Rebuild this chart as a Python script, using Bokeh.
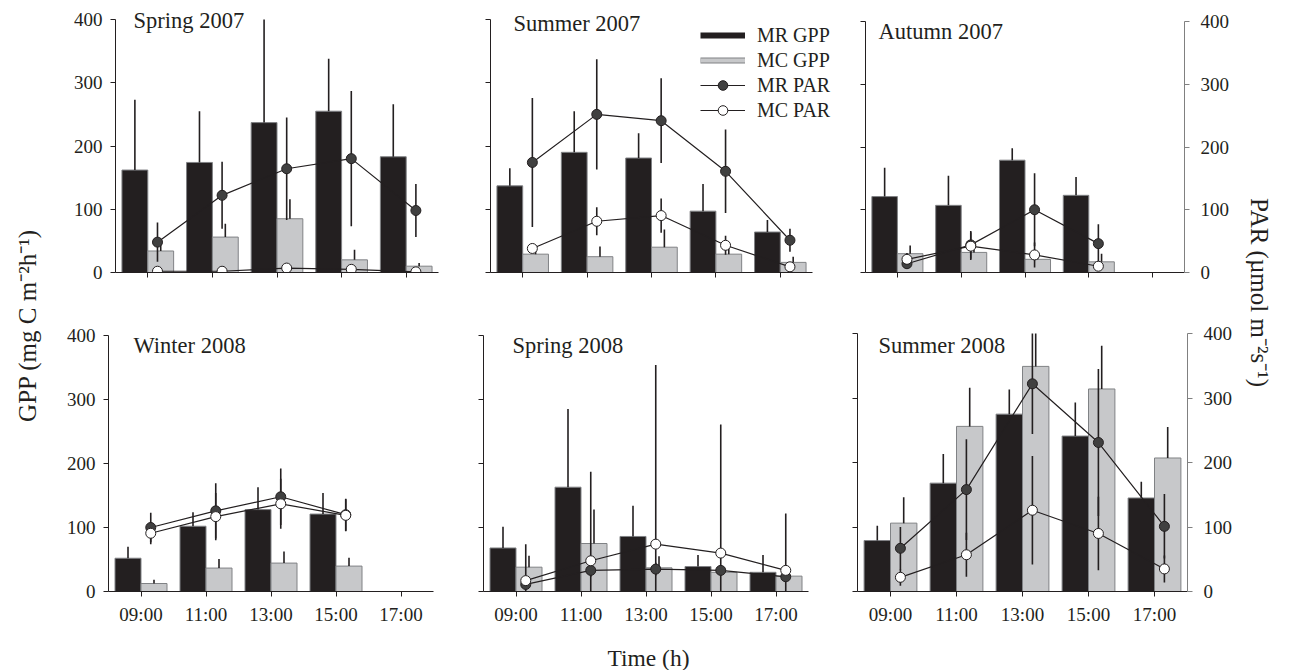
from bokeh.plotting import figure
from bokeh.models import (ColumnDataSource, Range1d, LinearAxis, FixedTicker, Label,
                          Legend, LegendItem, CustomJSTickFormatter)
from bokeh.layouts import row, column
from bokeh.transform import dodge
from bokeh.embed import file_html
from bokeh.resources import INLINE

# ---------------- data ----------------
hours = [9, 11, 13, 15, 17]
time_labels = ["09:00", "11:00", "13:00", "15:00", "17:00"]
y_ticks = [0, 100, 200, 300, 400]
seasons = ["Spring 2007", "Summer 2007", "Autumn 2007",
           "Winter 2008", "Spring 2008", "Summer 2008"]

# GPP (mg C m-2 h-1): one list per season (order as in `seasons`)
mr_gpp = [
    [162, 174, 237, 255, 183],
    [137, 190, 181, 97, 64],
    [121, 107, 179, 123],
    [52, 102, 128, 121],
    [68, 163, 86, 39, 30],
    [79, 168, 275, 241, 145],
]
mr_gpp_se = [
    [111, 81, 163, 83, 83],
    [28, 65, 39, 43, 19],
    [46, 47, 19, 29],
    [18, 22, 35, 33],
    [33, 122, 48, 18, 27],
    [23, 45, 38, 52, 25],
]
mc_gpp = [
    [34, 56, 85, 20, 10],
    [29, 25, 40, 29, 16],
    [30, 32, 21, 17],
    [12.5, 36.6, 44.4, 39.7],
    [38, 75, 37, 30, 24],
    [106, 256, 349, 314, 207],
]
mc_gpp_se = [
    [12, 21, 31, 16, 5],
    [8, 16, 28, 10, 9],
    [13, 6, 5, 13],
    [6, 14, 18, 13],
    [18, 53, 18, 6, 5],
    [40, 60, 51, 67, 48],
]
# PAR (umol m-2 s-1)
mr_par = [
    [48, 122, 164, 180, 98],
    [174, 250, 240, 160, 51],
    [14, 44, 100, 46],
    [100, 126, 148, 120],
    [11, 33, 35, 33, 23],
    [67, 158, 322, 231, 101],
]
mr_par_se = [
    [31, 53, 81, 107, 42],
    [102, 87, 67, 66, 18],
    [8, 22, 58, 31],
    [23, 43, 44, 25],
    [8, 10, 10, 8, 6],
    [33, 78, 78, 114, 50],
]
mc_par = [
    [2, 2, 7, 5, 1],
    [38, 81, 90, 43, 9],
    [21, 42, 28, 10],
    [91, 117, 137, 119],
    [17, 48, 74, 60, 33],
    [22, 57, 126, 90, 35],
]
mc_par_se = [
    [1, 1, 2, 1, 1],
    [5, 22, 27, 15, 3],
    [10, 22, 20, 5],
    [17, 37, 39, 25],
    [57, 139, 280, 201, 89],
    [13, 34, 84, 57, 21],
]

# ---------------- styles ----------------
INK = "#231f20"
DARK = "#231f20"
LIGHT = "#c7c8ca"
EDGE = "#808285"
RAXIS = "#808080"
FONT = "Liberation Serif"
PX_PER_H = 32.2
NAN = float("nan")

# bt: frame top inside figure, top400: pixel row of the 400 line inside figure
# extra: frame pixels beyond 18:00 (legend panel only)
cfgs = [
    dict(w=414, h=305, bl=65, br=26, bt=0, top400=19, bb=33, tx=18, ty=252, ylab=True, xlab=False, right=False, extra=0),
    dict(w=374, h=305, bl=26, br=0, bt=0, top400=19, bb=33, tx=23, ty=249, ylab=False, xlab=False, right=False, extra=26),
    dict(w=402, h=305, bl=27, br=56, bt=0, top400=21, bb=33, tx=13, ty=241, ylab=False, xlab=False, right=True, extra=0),
    dict(w=408, h=328, bl=58, br=25, bt=10, top400=30, bb=42, tx=25, ty=246, ylab=True, xlab=True, right=False, extra=0),
    dict(w=374, h=328, bl=25, br=24, bt=10, top400=30, bb=42, tx=29, ty=246, ylab=False, xlab=True, right=False, extra=0),
    dict(w=408, h=328, bl=25, br=53, bt=10, top400=28, bb=42, tx=21, ty=246, ylab=False, xlab=True, right=True, extra=0),
]

blank_fmt = CustomJSTickFormatter(code="return ''")


def style_axis(ax, show, color=INK, standoff=8):
    ax.axis_line_color = color
    ax.axis_line_width = 1
    ax.major_tick_line_color = color
    ax.major_tick_line_width = 1
    ax.major_tick_in = 0
    ax.major_tick_out = 5
    ax.minor_tick_line_color = None
    ax.major_label_text_font = FONT
    ax.major_label_text_font_size = "19px"
    ax.major_label_text_color = INK
    ax.major_label_standoff = standoff if show else 0


def make_panel(i, c):
    x_end = 18 + c["extra"] / PX_PER_H
    ppu = (c["h"] - c["bb"] - c["top400"]) / 400.0
    y_end = 400 + (c["top400"] - c["bt"]) / ppu
    p = figure(width=c["w"], height=c["h"], x_range=Range1d(8, x_end), y_range=Range1d(0, y_end),
               output_backend="svg", toolbar_location=None, title=None,
               x_axis_type=None, y_axis_type=None,
               min_border_left=c["bl"], min_border_right=c["br"],
               min_border_top=c["bt"], min_border_bottom=c["bb"])
    p.extra_y_ranges = {"par": Range1d(0, y_end)}
    p.outline_line_color = None

    n = len(mr_gpp[i])
    src = ColumnDataSource(dict(
        t=hours[:n],
        mr=mr_gpp[i], mr_top=[v + e for v, e in zip(mr_gpp[i], mr_gpp_se[i])],
        mc=mc_gpp[i], mc_top=[v + e for v, e in zip(mc_gpp[i], mc_gpp_se[i])],
        mrp=mr_par[i],
        mrp_lo=[max(v - e, 0) for v, e in zip(mr_par[i], mr_par_se[i])],
        mrp_hi=[v + e for v, e in zip(mr_par[i], mr_par_se[i])],
        mcp=mc_par[i],
        mcp_lo=[max(v - e, 0) for v, e in zip(mc_par[i], mc_par_se[i])],
        mcp_hi=[v + e for v, e in zip(mc_par[i], mc_par_se[i])],
    ))
    xl = dodge("t", -0.4)
    xr = dodge("t", 0.4)
    xp = dodge("t", 0.3)

    p.vbar(x=xl, top="mr", bottom=0, width=0.8, source=src,
           fill_color=DARK, line_color=EDGE, line_width=1)
    p.vbar(x=xr, top="mc", bottom=0, width=0.8, source=src,
           fill_color=LIGHT, line_color=EDGE, line_width=1)
    p.segment(x0=xl, y0="mr", x1=xl, y1="mr_top", source=src, line_color=INK, line_width=1.6)
    p.segment(x0=xr, y0="mc", x1=xr, y1="mc_top", source=src, line_color=INK, line_width=1.6)

    mr_line = p.line(x=xp, y="mrp", source=src, y_range_name="par", line_color=INK, line_width=1.2)
    mc_line = p.line(x=xp, y="mcp", source=src, y_range_name="par", line_color=INK, line_width=1.2)
    p.segment(x0=xp, y0="mrp_lo", x1=xp, y1="mrp_hi", source=src, y_range_name="par",
              line_color=INK, line_width=1.6)
    p.segment(x0=xp, y0="mcp_lo", x1=xp, y1="mcp_hi", source=src, y_range_name="par",
              line_color=INK, line_width=1.6)
    mr_pts = p.scatter(x=xp, y="mrp", source=src, y_range_name="par", size=10,
                       fill_color="#404040", line_color=INK, line_width=1)
    mc_pts = p.scatter(x=xp, y="mcp", source=src, y_range_name="par", size=10,
                       fill_color="white", line_color=INK, line_width=1)

    xaxis = LinearAxis(ticker=FixedTicker(ticks=hours, minor_ticks=[]), bounds=(8, 18))
    style_axis(xaxis, c["xlab"], standoff=7)
    if c["xlab"]:
        xaxis.major_label_overrides = {h: lab for h, lab in zip(hours, time_labels)}
    else:
        xaxis.formatter = blank_fmt
    p.add_layout(xaxis, "below")

    yaxis = LinearAxis(ticker=FixedTicker(ticks=y_ticks, minor_ticks=[]), bounds=(0, 400))
    style_axis(yaxis, c["ylab"], standoff=8)
    if not c["ylab"]:
        yaxis.formatter = blank_fmt
    p.add_layout(yaxis, "left")

    if c["right"]:
        raxis = LinearAxis(y_range_name="par", ticker=FixedTicker(ticks=y_ticks, minor_ticks=[]),
                           bounds=(0, 400))
        style_axis(raxis, True, color=RAXIS, standoff=11)
        p.add_layout(raxis, "right")

    p.add_layout(Label(x=c["tx"], y=c["ty"], x_units="screen", y_units="screen",
                       text=seasons[i], text_font=FONT, text_font_size="22.5px",
                       text_color=INK, text_baseline="alphabetic", text_align="left"))

    if i == 1:
        # legend proxies (no visible marks)
        g1 = p.line(x=[NAN], y=[NAN], line_color=DARK, line_width=6)
        g2a = p.line(x=[NAN], y=[NAN], line_color=EDGE, line_width=6)
        g2b = p.line(x=[NAN], y=[NAN], line_color=LIGHT, line_width=4)
        legend = Legend(items=[
            LegendItem(label="MR GPP", renderers=[g1]),
            LegendItem(label="MC GPP", renderers=[g2a, g2b]),
            LegendItem(label="MR PAR", renderers=[mr_line, mr_pts]),
            LegendItem(label="MC PAR", renderers=[mc_line, mc_pts]),
        ], location=(210, 150), glyph_width=45, glyph_height=24, label_height=24, spacing=1,
            padding=0, margin=0, label_standoff=12,
            label_text_font=FONT, label_text_font_size="20px", label_text_color=INK,
            border_line_color=None, background_fill_alpha=0)
        p.add_layout(legend)
    return p


def blank(w, h):
    f = figure(width=w, height=h, x_range=Range1d(0, 1), y_range=Range1d(0, 1),
               output_backend="svg", toolbar_location=None, title=None,
               x_axis_type=None, y_axis_type=None, min_border=0)
    f.outline_line_color = None
    return f


panels = [make_panel(i, c) for i, c in enumerate(cfgs)]

left_fig = blank(50, 670)
left_fig.add_layout(Label(x=27, y=345, x_units="screen", y_units="screen",
                          text="GPP (mg C m\u207b\u00b2h\u207b\u00b9)", angle=1.5707963,
                          text_font=FONT, text_font_size="25px", text_color=INK,
                          text_align="center", text_baseline="alphabetic"))

right_fig = blank(54, 670)
right_fig.add_layout(Label(x=19, y=378, x_units="screen", y_units="screen",
                           text="PAR (\u00b5mol m\u207b\u00b2s\u207b\u00b9)", angle=-1.5707963,
                           text_font=FONT, text_font_size="25px", text_color=INK,
                           text_align="center", text_baseline="alphabetic"))

bottom_fig = blank(1190, 37)
bottom_fig.add_layout(Label(x=598, y=13, x_units="screen", y_units="screen",
                            text="Time (h)", text_font=FONT, text_font_size="23.5px",
                            text_color=INK, text_align="center", text_baseline="alphabetic"))

layout = row(left_fig,
             column(row(*panels[:3]), row(*panels[3:]), bottom_fig),
             right_fig)

open("out.html", "w").write(file_html(layout, INLINE))
